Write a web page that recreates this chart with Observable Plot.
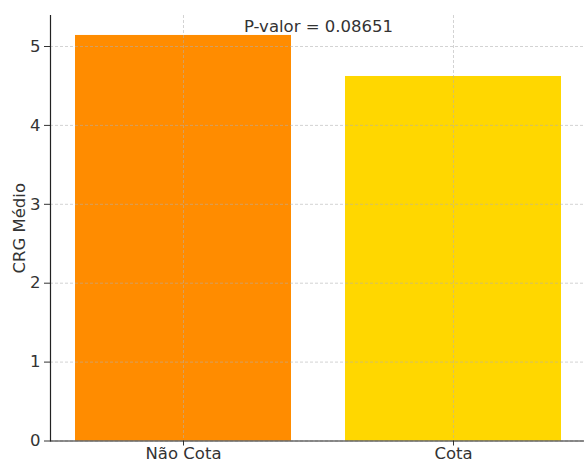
<!DOCTYPE html>
<html>
<head>
<meta charset="utf-8">
<script src="https://cdn.jsdelivr.net/npm/d3@7"></script>
<script src="https://cdn.jsdelivr.net/npm/@observablehq/plot@0.6"></script>
<style>
  html, body { margin: 0; padding: 0; background: #fff; }
  svg { display: block; }
</style>
</head>
<body>
<div id="chart"></div>
<script>
const categories = ["Não Cota", "Cota"];
const values = [5.14, 4.62];
const colors = ["#FF8C00", "#FFD700"];
const yTicks = [0, 1, 2, 3, 4, 5];
const yLabel = "CRG Médio";
const annotation = "P-valor = 0.08651";

const data = categories.map((c, i) => ({category: c, value: values[i], color: colors[i]}));

const font = "DejaVu Sans, sans-serif";
const textColor = "#333";

const chart = Plot.plot({
  width: 584,
  height: 461,
  marginLeft: 50,
  marginRight: 0,
  marginTop: 15,
  marginBottom: 20.5,
  style: {fontFamily: font, fontSize: "16.5px", color: textColor, background: "#fff", overflow: "visible"},
  x: {type: "band", domain: categories, range: [47.25, 588.25], paddingInner: 0.2, paddingOuter: 0.1, align: 0.5, label: null},
  y: {domain: [0, 5.393], label: null},
  marks: [
    Plot.barY(data, {x: "category", y: "value", fill: "color"}),
    Plot.ruleY(yTicks, {stroke: "#b0b0b0", strokeOpacity: 0.7, strokeWidth: 0.8, strokeDasharray: "3,2"}),
    Plot.ruleX(categories, {x: d => d, stroke: "#b0b0b0", strokeOpacity: 0.7, strokeWidth: 0.8, strokeDasharray: "3,2"}),
    Plot.axisY({ticks: yTicks, tickSize: 6, tickPadding: 4, tickFormat: d => String(d), label: null, stroke: textColor, fill: textColor, fontSize: 16.5}),
    Plot.axisX({tickSize: 5, tickPadding: 1, label: null, stroke: textColor, fill: textColor, fontSize: 16.5}),
    Plot.frame({anchor: "left", stroke: "#222", strokeWidth: 1.2}),
    Plot.ruleY([0], {stroke: "#222", strokeWidth: 1.2}),
    Plot.text([yLabel], {frameAnchor: "left", dx: -31, rotate: -90, text: d => d, fill: textColor, fontSize: 16.5, textAnchor: "middle", lineAnchor: "middle"}),
    Plot.text([annotation], {frameAnchor: "top-left", dx: 268, dy: 11, text: d => d, fill: textColor, fontSize: 16.5, textAnchor: "middle", lineAnchor: "middle"})
  ]
});

document.getElementById("chart").append(chart);
</script>
</body>
</html>
